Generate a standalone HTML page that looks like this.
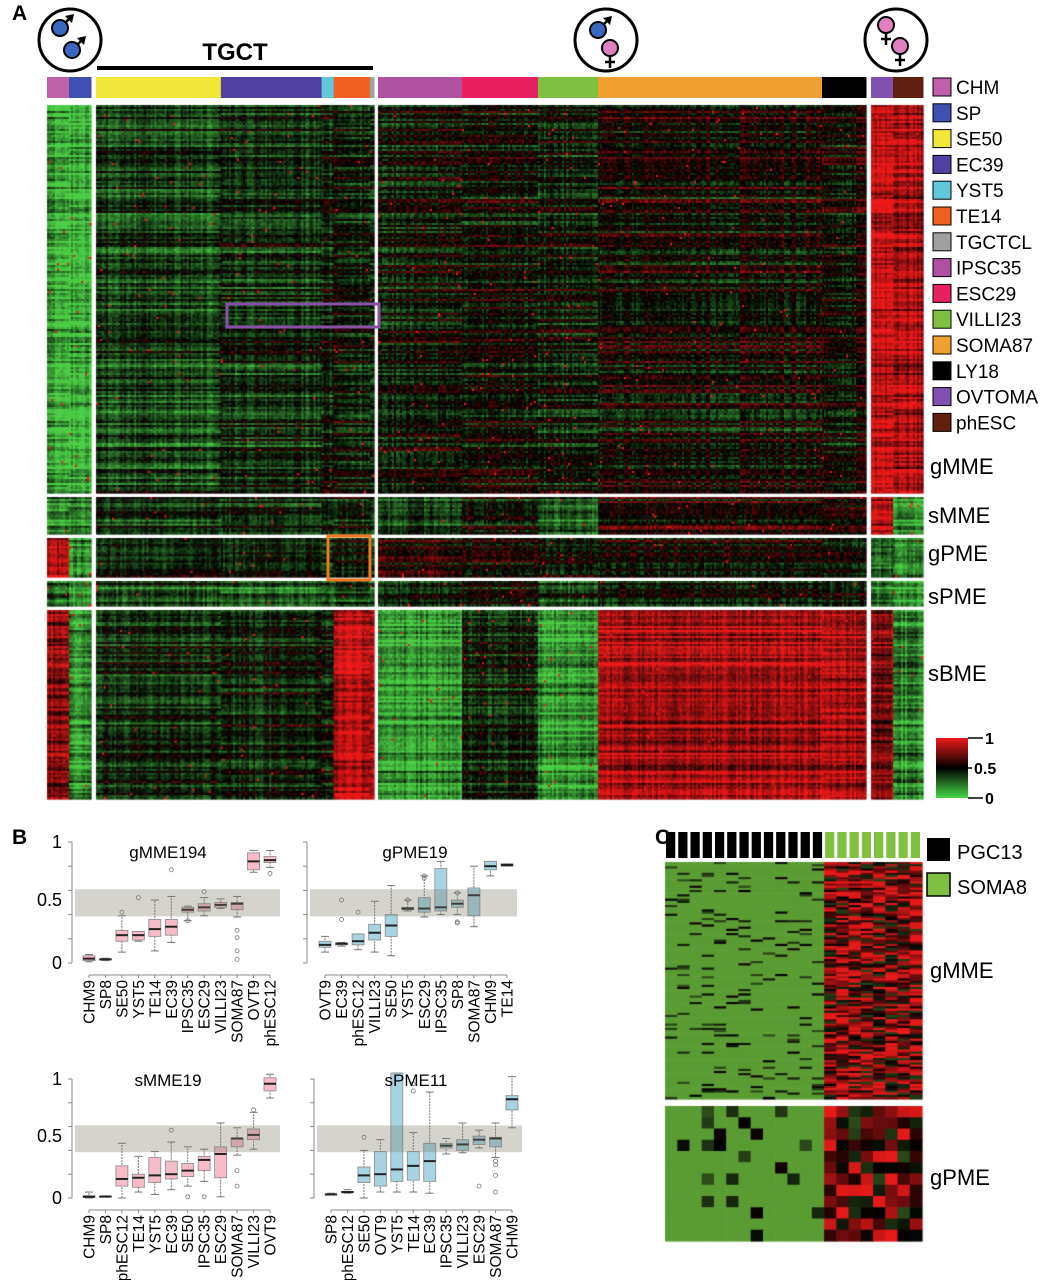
<!DOCTYPE html>
<html><head><meta charset="utf-8">
<style>
body{margin:0;background:#fff;font-family:"Liberation Sans",Arial,sans-serif;}
#root{position:relative;width:1049px;height:1280px;overflow:hidden;background:#fff;}
svg{position:absolute;left:0;top:0;}
canvas{position:absolute;left:0;top:0;}
</style></head>
<body>
<div id="root">
<canvas id="hm" width="1049" height="1280"></canvas>
<svg id="ov" width="1049" height="1280"></svg>
</div>
<script>
// ---------- Panel A data ----------
const colGroups = ["CHM","SP","SE50","EC39","YST5","TE14","TGCTCL","IPSC35","ESC29","VILLI23","SOMA87","LY18","OVTOMA","phESC"];
const colGroupColors = ["#c060a8","#4050b0","#f0e838","#5040a0","#60c8d8","#f06020","#a0a0a0","#b050a0","#e82060","#80c040","#f0a030","#000000","#8050b0","#602010"];
const colGroupCounts = [11,11,62,50,6,18,2,42,38,30,112,22,11,15];
const rowGroups = ["gMME","sMME","gPME","sPME","sBME"];
const rowGroupCounts = [194,18,19,12,94];
const meanGMME = [0.1,0.1,0.34,0.38,0.42,0.42,0.35,0.46,0.48,0.46,0.5,0.5,0.88,0.85];
const meanSMME = [0.15,0.15,0.38,0.38,0.38,0.42,0.35,0.33,0.45,0.26,0.55,0.55,0.88,0.12];
const meanGPME = [0.9,0.18,0.42,0.44,0.42,0.44,0.35,0.6,0.56,0.5,0.51,0.48,0.25,0.2];
const meanSPME = [0.3,0.12,0.33,0.3,0.32,0.33,0.25,0.4,0.46,0.33,0.46,0.46,0.22,0.12];
const meanSBME = [0.8,0.18,0.42,0.44,0.45,0.9,0.9,0.15,0.42,0.15,0.86,0.86,0.8,0.2];
const means = [meanGMME,meanSMME,meanGPME,meanSPME,meanSBME];
// ---------- Panel C data ----------
const cGroups = ["PGC13","SOMA8"];
const cCounts = [13,8];
const cRowCounts = [110,12];
const cMeanGMME = [0.1,0.72];
const cMeanGPME = [0.1,0.7];
// ---------- Panel B data: [whiskerLo, q1, median, q3, whiskerHi] ----------
const b1Cats = ["CHM9","SP8","SE50","YST5","TE14","EC39","IPSC35","ESC29","VILLI23","SOMA87","OVT9","phESC12"];
const b1Stats = [[0.01,0.02,0.036,0.06,0.07],[0.02,0.025,0.03,0.035,0.04],[0.09,0.18,0.23,0.27,0.39],[0.18,0.19,0.23,0.26,0.26],[0.1,0.22,0.28,0.36,0.52],[0.17,0.23,0.3,0.36,0.55],[0.35,0.42,0.44,0.46,0.47],[0.39,0.43,0.46,0.49,0.54],[0.45,0.46,0.48,0.5,0.53],[0.38,0.44,0.49,0.5,0.55],[0.75,0.77,0.84,0.91,0.93],[0.79,0.83,0.85,0.88,0.93]];
const b1Out = [[],[],[0.42],[0.54],[],[0.77],[0.35],[0.59],[],[0.27,0.21,0.1,0.03],[],[0.74]];
const b2Cats = ["OVT9","EC39","phESC12","VILLI23","SE50","YST5","ESC29","IPSC35","SP8","SOMA87","CHM9","TE14"];
const b2Stats = [[0.09,0.13,0.15,0.18,0.22],[0.14,0.15,0.16,0.165,0.17],[0.11,0.15,0.18,0.24,0.24],[0.09,0.19,0.25,0.32,0.51],[0.06,0.22,0.31,0.4,0.64],[0.43,0.44,0.45,0.46,0.52],[0.38,0.42,0.45,0.54,0.72],[0.4,0.43,0.46,0.78,0.84],[0.4,0.46,0.49,0.52,0.58],[0.3,0.39,0.56,0.62,0.8],[0.72,0.77,0.8,0.84,0.84],[0.8,0.8,0.81,0.82,0.82]];
const b2Out = [[],[0.52,0.36],[0.42],[],[],[0.52],[0.7,0.72],[],[0.34,0.33,0.58],[],[],[]];
const b3Cats = ["CHM9","SP8","phESC12","TE14","YST5","EC39","SE50","IPSC35","ESC29","SOMA87","VILLI23","OVT9"];
const b3Stats = [[0,0.005,0.01,0.02,0.05],[0.008,0.01,0.012,0.015,0.018],[0,0.1,0.16,0.27,0.46],[0.05,0.09,0.17,0.2,0.35],[0.03,0.13,0.19,0.34,0.39],[0.07,0.16,0.2,0.31,0.47],[0.1,0.18,0.23,0.29,0.43],[0.14,0.23,0.32,0.35,0.41],[0.01,0.17,0.37,0.43,0.63],[0.36,0.43,0.5,0.5,0.59],[0.41,0.49,0.53,0.58,0.72],[0.84,0.9,0.96,1.01,1.04]];
const b3Out = [[],[],[],[],[],[0.57],[0.01],[0.01],[],[0.23,0.1],[0.74],[]];
const b4Cats = ["SP8","phESC12","SE50","OVT9","YST5","TE14","EC39","IPSC35","VILLI23","ESC29","SOMA87","CHM9"];
const b4Stats = [[0.025,0.028,0.03,0.033,0.04],[0.04,0.045,0.05,0.055,0.07],[0,0.13,0.19,0.26,0.4],[0.05,0.1,0.2,0.39,0.49],[0.05,0.14,0.24,1.05,1.05],[0.05,0.15,0.27,0.39,0.55],[0.04,0.14,0.31,0.46,0.89],[0.37,0.42,0.44,0.46,0.5],[0.38,0.4,0.45,0.49,0.63],[0.42,0.45,0.49,0.52,0.57],[0.34,0.43,0.5,0.51,0.63],[0.59,0.74,0.83,0.86,1.02]];
const b4Out = [[],[],[0.51],[],[],[0.9,0.96],[],[],[],[0.1],[0.31,0.28,0.19,0.05],[]];

// ---------- helpers ----------
const NS = "http://www.w3.org/2000/svg";
const ov = document.getElementById("ov");
function mk(tag, attrs, parent){const e=document.createElementNS(NS,tag);for(const k in attrs)e.setAttribute(k,attrs[k]);(parent||ov).appendChild(e);return e;}
function txt(s,x,y,size,attrs){const t=mk("text",Object.assign({x:x,y:y,"font-size":size,"font-family":"Liberation Sans, Arial, sans-serif",fill:"#000"},attrs||{}));t.textContent=s;return t;}
function hash(a,b,c){let h=(a*374761393+b*668265263+c*2147483647)|0;h=(h^(h>>>13))*1274126177|0;h=h^(h>>>16);return ((h>>>0)%10000)/10000;}
function colorOf(v){v=Math.max(0,Math.min(1,v));
 if(v<0.5){const t=(0.5-v)/0.5;return "rgb("+Math.round(75*t)+","+Math.round(205*t)+","+Math.round(70*t)+")";}
 const t=(v-0.5)/0.5;return "rgb("+Math.round(235*t)+","+Math.round(25*t)+","+Math.round(25*t)+")";}
function colorC(v){v=Math.max(0,Math.min(1,v));
 if(v<0.5){const t=(0.5-v)/0.5;return "rgb("+Math.round(112*t)+","+Math.round(195*t)+","+Math.round(65*t)+")";}
 const t=(v-0.5)/0.5;return "rgb("+Math.round(230*t)+","+Math.round(25*t)+","+Math.round(25*t)+")";}
const ctx=document.getElementById("hm").getContext("2d");

// ---------- Panel A heatmap ----------
const blockX=[[47,91],[96,374],[378,866],[871,923]];
const blockOf=[0,0,1,1,1,1,1,2,2,2,2,2,3,3];
const rowY=[[105,493],[497,534],[538,577],[581,606],[610,799]];
const cols=[];
for(let b=0;b<4;b++){
 const gs=[];for(let g=0;g<colGroups.length;g++)if(blockOf[g]===b)gs.push(g);
 let n=0;gs.forEach(g=>n+=colGroupCounts[g]);
 const W=blockX[b][1]-blockX[b][0];let acc=0;
 gs.forEach(g=>{for(let i=0;i<colGroupCounts[g];i++){const x0=blockX[b][0]+W*acc/n,x1=blockX[b][0]+W*(acc+1)/n;cols.push({x:x0,w:x1-x0,g:g,i:cols.length});acc++;}});
}
for(let r=0;r<rowGroups.length;r++){
 const n=rowGroupCounts[r],H=rowY[r][1]-rowY[r][0];
 for(let j=0;j<n;j++){
  const y0=rowY[r][0]+H*j/n,y1=rowY[r][0]+H*(j+1)/n;
  const re=(hash(r,j,7)-0.5)*0.25;
  cols.forEach(c=>{
   const ce=(hash(c.i,r,3)-0.5)*0.18;
   const ge=(hash(c.g,j,r+31)-0.5)*0.22;
   const ne=(hash(c.i,j,r+11)-0.5)*0.14;
   let v=means[r][c.g]+re+ce+ge+ne;
   if(hash(c.i,j,r+99)>0.995)v=1;
   ctx.fillStyle=colorOf(v);ctx.fillRect(c.x,y0,c.w+0.6,y1-y0+0.6);
  });
 }
}
let gx={};
cols.forEach(c=>{if(!gx[c.g])gx[c.g]=[c.x,c.x+c.w];gx[c.g][1]=c.x+c.w;});
for(let g=0;g<colGroups.length;g++){
 const r=mk("rect",{x:gx[g][0],y:77,width:gx[g][1]-gx[g][0]+0.5,height:21,fill:colGroupColors[g]});
 
 
}

// ---------- Panel C heatmap ----------
const cx0=665,cx1=922,cN=cCounts[0]+cCounts[1],cW=(cx1-cx0)/cN;
const cRowY=[[862,1099],[1106,1241]];
const cMeans=[cMeanGMME,cMeanGPME];
for(let r=0;r<2;r++){
 const n=cRowCounts[r],H=cRowY[r][1]-cRowY[r][0];
 for(let j=0;j<n;j++){
  const y0=cRowY[r][0]+H*j/n;
  for(let i=0;i<cN;i++){
   const g=i<cCounts[0]?0:1;
   let v=cMeans[r][g];
   const h=hash(i,j,r+50);
   if(g===0){ if(h>0.9)v=0.3+hash(i,j,r+5)*0.25; }
   else v=v+(h-0.5)*0.8;
   ctx.fillStyle=colorC(v);ctx.fillRect(cx0+i*cW,y0,cW+0.6,H/n+0.6);
  }
 }
}
for(let i=0;i<cN;i++){
 const r=mk("rect",{x:cx0+i*cW+1,y:832,width:cW-3,height:26,fill:i<cCounts[0]?"#000":"#80c040"});
 
 
}

// ---------- Panel B boxplots ----------
function boxPanel(name,cats,stats,outs,P,fill){
 const g=mk("g",{});
 
 
 const yv=v=>P.y0-(P.y0-P.y1)*v;
 const xv=i=>P.x0+(P.x1-P.x0)*i/(cats.length-1);
 mk("line",{x1:P.ax,y1:yv(0),x2:P.ax,y2:yv(1),stroke:"#888","stroke-width":1},g);
 for(let t=0;t<=5;t++)mk("line",{x1:P.ax-4,y1:yv(t*0.2),x2:P.ax,y2:yv(t*0.2),stroke:"#888"},g);
 if(P.labels){txt("1",P.ax-20,yv(1)+6,18,{}) ;txt("0.5",P.ax-35,yv(0.52)+6,18,{});txt("0",P.ax-20,yv(0)+6,18,{});}
 const ay=yv(0)+12;
 mk("line",{x1:xv(0),y1:ay,x2:xv(cats.length-1),y2:ay,stroke:"#888"},g);
 stats.forEach((s,i)=>{
  const x=xv(i),w=12;
  mk("line",{x1:x,y1:yv(s[0]),x2:x,y2:yv(s[4]),stroke:"#777","stroke-dasharray":"2,1"},g);
  mk("line",{x1:x-4,y1:yv(s[0]),x2:x+4,y2:yv(s[0]),stroke:"#777"},g);
  mk("line",{x1:x-4,y1:yv(s[4]),x2:x+4,y2:yv(s[4]),stroke:"#777"},g);
  const b=mk("rect",{x:x-w/2,y:yv(s[3]),width:w,height:Math.max(1,yv(s[1])-yv(s[3])),fill:fill,stroke:"#888","stroke-width":0.8},g);
  
  
  mk("line",{x1:x-w/2,y1:yv(s[2]),x2:x+w/2,y2:yv(s[2]),stroke:"#222","stroke-width":2},g);
  outs[i].forEach(o=>mk("circle",{cx:x,cy:yv(o),r:2,fill:"none",stroke:"#777","stroke-width":0.8},g));
  mk("line",{x1:x,y1:ay,x2:x,y2:ay+3,stroke:"#888"},g);
  const t=txt(cats[i],0,0,15.5,{transform:"translate("+(x+5.5)+","+(ay+5)+") rotate(-90)","text-anchor":"end"});
  
  
 });
 const band=mk("rect",{x:P.ax+3,y:yv(0.61),width:xv(cats.length-1)+10-P.ax-3,height:yv(0.385)-yv(0.61),fill:"rgba(125,122,105,0.33)"},g);
 
 
 const tt=txt(name,P.tx,P.ty,17,{"text-anchor":"middle"});
 
 
}
boxPanel("gMME194",b1Cats,b1Stats,b1Out,{ax:72,x0:89,x1:270,y1:842,y0:963,labels:true,tx:168,ty:858},"#f8bcc8");
boxPanel("gPME19",b2Cats,b2Stats,b2Out,{ax:307,x0:325,x1:507,y1:842,y0:963,labels:false,tx:415,ty:858},"#a8d4e2");
boxPanel("sMME19",b3Cats,b3Stats,b3Out,{ax:72,x0:89,x1:270,y1:1079,y0:1198,labels:true,tx:168,ty:1086},"#f8bcc8");
boxPanel("sPME11",b4Cats,b4Stats,b4Out,{ax:314,x0:331,x1:512,y1:1079,y0:1198,labels:false,tx:416,ty:1086},"#a8d4e2");

// ---------- Annotations ----------
[["A",12,20],["B",12,844],["C",655,844]].forEach(a=>{const t=txt(a[0],a[1],a[2],21,{"font-weight":"bold"});});
const tg=txt("TGCT",235,60,24,{"font-weight":"bold","text-anchor":"middle"});


mk("line",{x1:97,y1:68,x2:373,y2:68,stroke:"#000","stroke-width":4});
mk("rect",{x:227,y:304,width:152,height:23,fill:"none",stroke:"#8a50a8","stroke-width":3});
mk("rect",{x:328,y:536,width:42,height:44,fill:"none",stroke:"#f07820","stroke-width":3});
function male(x,y){mk("line",{x1:x,y1:y,x2:x+11,y2:y-11,stroke:"#000","stroke-width":2.5});mk("polygon",{points:(x+14)+","+(y-14)+" "+(x+5)+","+(y-12)+" "+(x+12)+","+(y-5),fill:"#000"});mk("circle",{cx:x,cy:y,r:8,fill:"#3a68c0",stroke:"#000","stroke-width":2});}
function female(x,y){mk("line",{x1:x,y1:y+8,x2:x,y2:y+20,stroke:"#000","stroke-width":2.5});mk("line",{x1:x-5,y1:y+14,x2:x+5,y2:y+14,stroke:"#000","stroke-width":2.5});mk("circle",{cx:x,cy:y,r:8,fill:"#e080c0",stroke:"#000","stroke-width":2});}
[[70,40],[606,40],[896,40]].forEach((c,i)=>{const e=mk("circle",{cx:c[0],cy:c[1],r:31,fill:"#fff",stroke:"#000","stroke-width":3});});
male(60,28);male(72,50);
male(598,30);female(610,48);
female(886,25);female(900,46);
colGroups.forEach((g,i)=>{
 const y=78+i*25.8;
 const r=mk("rect",{x:933,y:y,width:18,height:18,fill:colGroupColors[i],stroke:"#000","stroke-width":1});
 
 
 const t=txt(g,956,y+16,19,{});
 
 
});
[["gMME",930,474],["sMME",928,523],["gPME",928,561],["sPME",928,604],["sBME",928,681]].forEach(l=>{const t=txt(l[0],l[1],l[2],22,{});});
const defs=mk("defs",{});
const lg=mk("linearGradient",{id:"cs",x1:0,y1:0,x2:0,y2:1},defs);
mk("stop",{offset:"0","stop-color":"#eb1919"},lg);mk("stop",{offset:"0.5","stop-color":"#000"},lg);mk("stop",{offset:"1","stop-color":"#46d746"},lg);
const cs=mk("rect",{x:936,y:738,width:32,height:60,fill:"url(#cs)"});


[[738,"1",985,983],[768,"0.5",974,972],[798,"0",985,983]].forEach(s=>{mk("line",{x1:968,y1:s[0],x2:s[3],y2:s[0],stroke:"#000","stroke-width":1.5});txt(s[1],s[2],s[0]+6,16,{"font-weight":"bold"});});
mk("rect",{x:927,y:838,width:23,height:23,fill:"#000"});
txt("PGC13",957,859,20,{});
mk("rect",{x:927,y:873,width:23,height:23,fill:"#80c040",stroke:"#000","stroke-width":1.5});
txt("SOMA8",957,894,20,{});
txt("gMME",930,978,22,{});
txt("gPME",930,1185,22,{});
</script>
</body></html>
